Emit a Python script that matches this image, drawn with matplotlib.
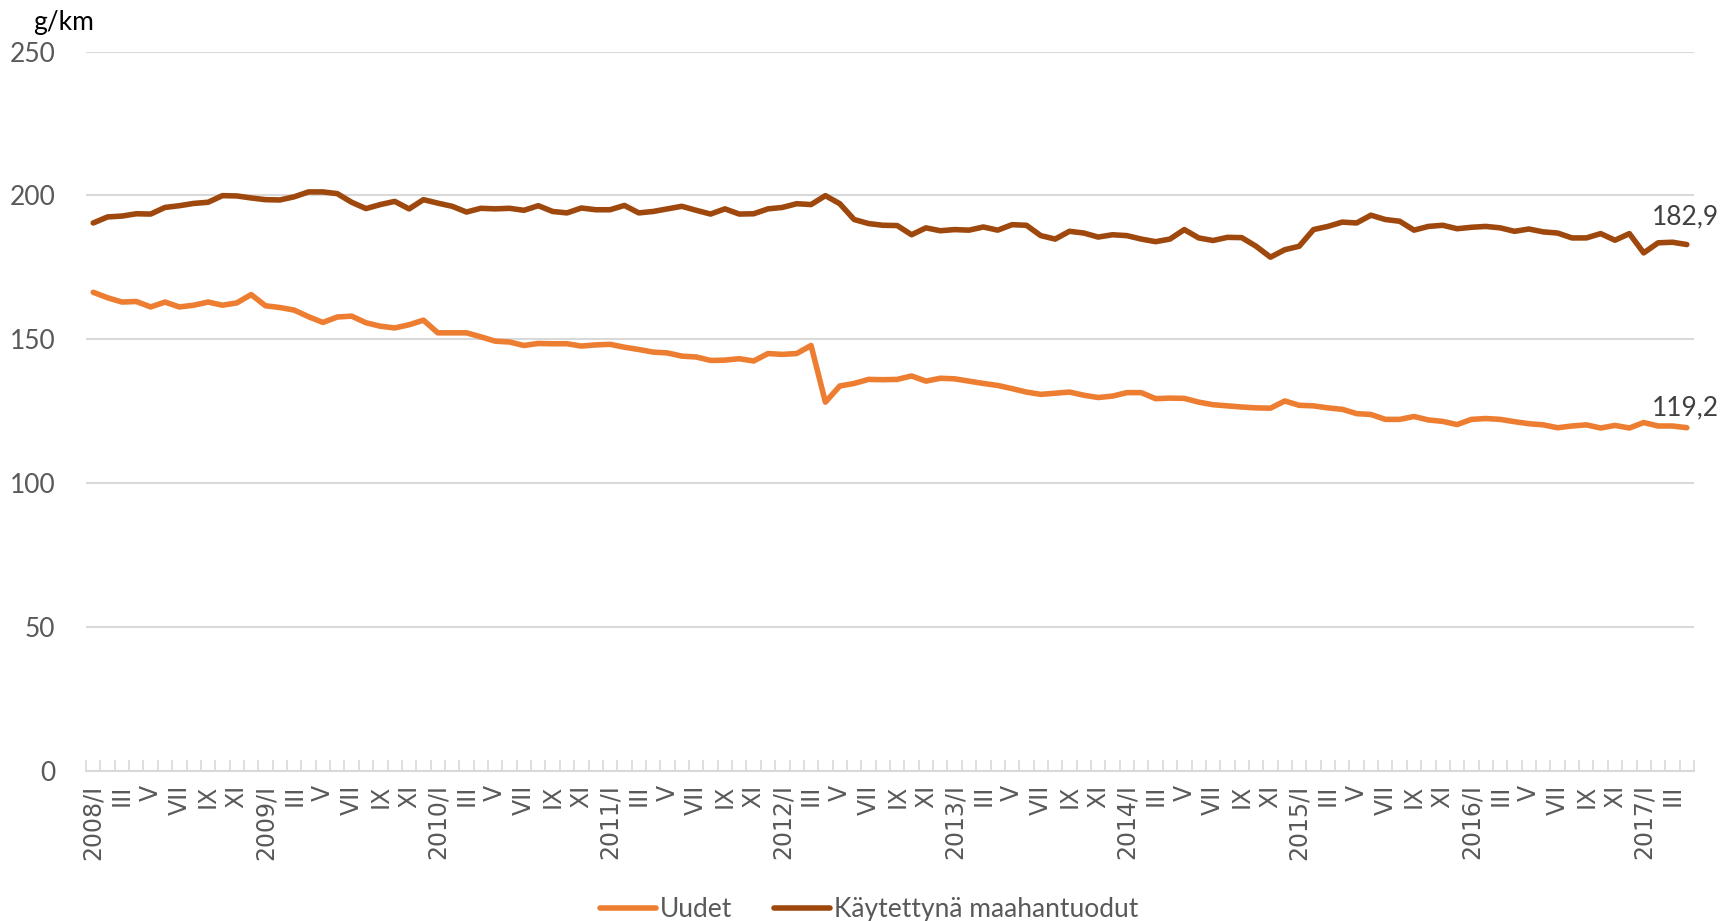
import matplotlib
matplotlib.use("Agg")
import matplotlib.pyplot as plt
import numpy as np

# monthly CO2 emissions, g/km, 2008/I .. 2017/IV
roman = ["I", "II", "III", "IV", "V", "VI", "VII", "VIII", "IX", "X", "XI", "XII"]
years = list(range(2008, 2018))
months = [f"{y}/{m}" if m == "I" else m for y in years for m in roman][:112]

uudet = [
    166.3, 164.4, 162.9, 163.1, 161.2, 162.9, 161.2, 161.8, 162.9, 161.8, 162.6, 165.5,
    161.6, 161.0, 160.1, 157.8, 155.8, 157.7, 158.0, 155.7, 154.5, 153.9, 155.0, 156.6,
    152.2, 152.2, 152.2, 150.8, 149.3, 149.0, 147.8, 148.5, 148.4, 148.4, 147.6, 148.0,
    148.2, 147.2, 146.4, 145.5, 145.2, 144.1, 143.8, 142.6, 142.7, 143.2, 142.4, 145.0,
    144.7, 145.0, 147.8, 128.1, 133.7, 134.6, 136.0, 135.9, 136.0, 137.2, 135.4, 136.4,
    136.2, 135.4, 134.6, 133.9, 132.8, 131.6, 130.8, 131.2, 131.6, 130.5, 129.7, 130.2,
    131.4, 131.4, 129.3, 129.5, 129.4, 128.1, 127.2, 126.8, 126.4, 126.1, 126.0, 128.5,
    127.0, 126.8, 126.1, 125.6, 124.1, 123.8, 122.1, 122.1, 123.1, 121.9, 121.4, 120.3,
    122.1, 122.4, 122.1, 121.3, 120.6, 120.2, 119.2, 119.8, 120.2, 119.1, 120.0, 119.1,
    121.0, 119.8, 119.8, 119.2,
]

kaytetyt = [
    190.4, 192.5, 192.8, 193.6, 193.5, 195.8, 196.4, 197.2, 197.6, 199.9, 199.8, 199.1,
    198.5, 198.4, 199.5, 201.2, 201.2, 200.6, 197.6, 195.4, 196.8, 197.9, 195.3, 198.5,
    197.3, 196.2, 194.2, 195.5, 195.3, 195.5, 194.8, 196.4, 194.4, 193.9, 195.6, 195.0,
    195.0, 196.5, 193.9, 194.4, 195.3, 196.2, 194.8, 193.5, 195.3, 193.5, 193.6, 195.3,
    195.8, 197.1, 196.8, 199.9, 197.1, 191.6, 190.2, 189.6, 189.5, 186.3, 188.7, 187.7,
    188.1, 187.9, 189.0, 187.9, 189.8, 189.6, 186.0, 184.8, 187.5, 186.9, 185.5, 186.3,
    186.0, 184.8, 183.9, 184.8, 188.1, 185.2, 184.3, 185.4, 185.3, 182.3, 178.5, 181.1,
    182.3, 188.1, 189.2, 190.7, 190.4, 193.1, 191.6, 191.0, 187.9, 189.2, 189.6, 188.4,
    188.9, 189.2, 188.7, 187.5, 188.3, 187.3, 186.9, 185.2, 185.2, 186.7, 184.4, 186.7,
    180.0, 183.5, 183.7, 182.9,
]

ORANGE = "#ED7D31"
BROWN = "#9E480E"
GRID = "#D9D9D9"
TXT = "#595959"

plt.rcParams["font.family"] = ["Lato", "DejaVu Sans"]

fig = plt.figure(figsize=(17.21, 9.21), dpi=100)
ax = fig.add_axes([0.05, 0.1634, 0.9343, 0.7806])

x = np.arange(len(months))
l1, = ax.plot(x, uudet, color=ORANGE, lw=4, solid_joinstyle="round",
              solid_capstyle="round", label="Uudet", zorder=3)
l2, = ax.plot(x, kaytetyt, color=BROWN, lw=4, solid_joinstyle="round",
              solid_capstyle="round", label="Käytettynä maahantuodut", zorder=3)

# end-point labels (offsets in points)
for series, dy in ((kaytetyt, 11), (uudet, 5)):
    ax.annotate(f"{series[-1]:.1f}".replace(".", ","), (x[-1], series[-1]),
                xytext=(-1, dy), textcoords="offset points", ha="center", va="bottom",
                fontsize=19, color="#404040", annotation_clip=False)

ax.set_xlim(-0.5, len(months) - 0.5)
ax.set_ylim(0, 250)
ax.set_yticks(range(0, 251, 50))
ax.yaxis.grid(True, color=GRID, lw=1.5)
ax.set_axisbelow(True)

ax.set_xticks(x[::2])
ax.set_xticklabels(months[::2], rotation=90, fontsize=17, color=TXT,
                   family="DejaVu Sans")
ax.set_xticks(np.arange(-0.5, len(months), 1), minor=True)
ax.tick_params(axis="x", which="major", length=0, pad=10)
ax.tick_params(axis="x", which="minor", direction="in", length=8, width=1.2, color=GRID)
ax.tick_params(axis="y", length=0, pad=22, labelsize=19, labelcolor=TXT)

for s in ("top", "right", "left"):
    ax.spines[s].set_visible(False)
ax.spines["bottom"].set_color(GRID)
ax.spines["bottom"].set_linewidth(1.5)

fig.text(0.019, 0.976, "g/km", fontsize=19, color="black", va="center")

fig.legend(handles=[l1, l2], loc="center", bbox_to_anchor=(0.505, 0.012),
           ncol=2, frameon=False, fontsize=19, labelcolor=TXT,
           handlelength=2.1, handletextpad=0.15, columnspacing=1.6)

fig.savefig("out.png", dpi=100)
